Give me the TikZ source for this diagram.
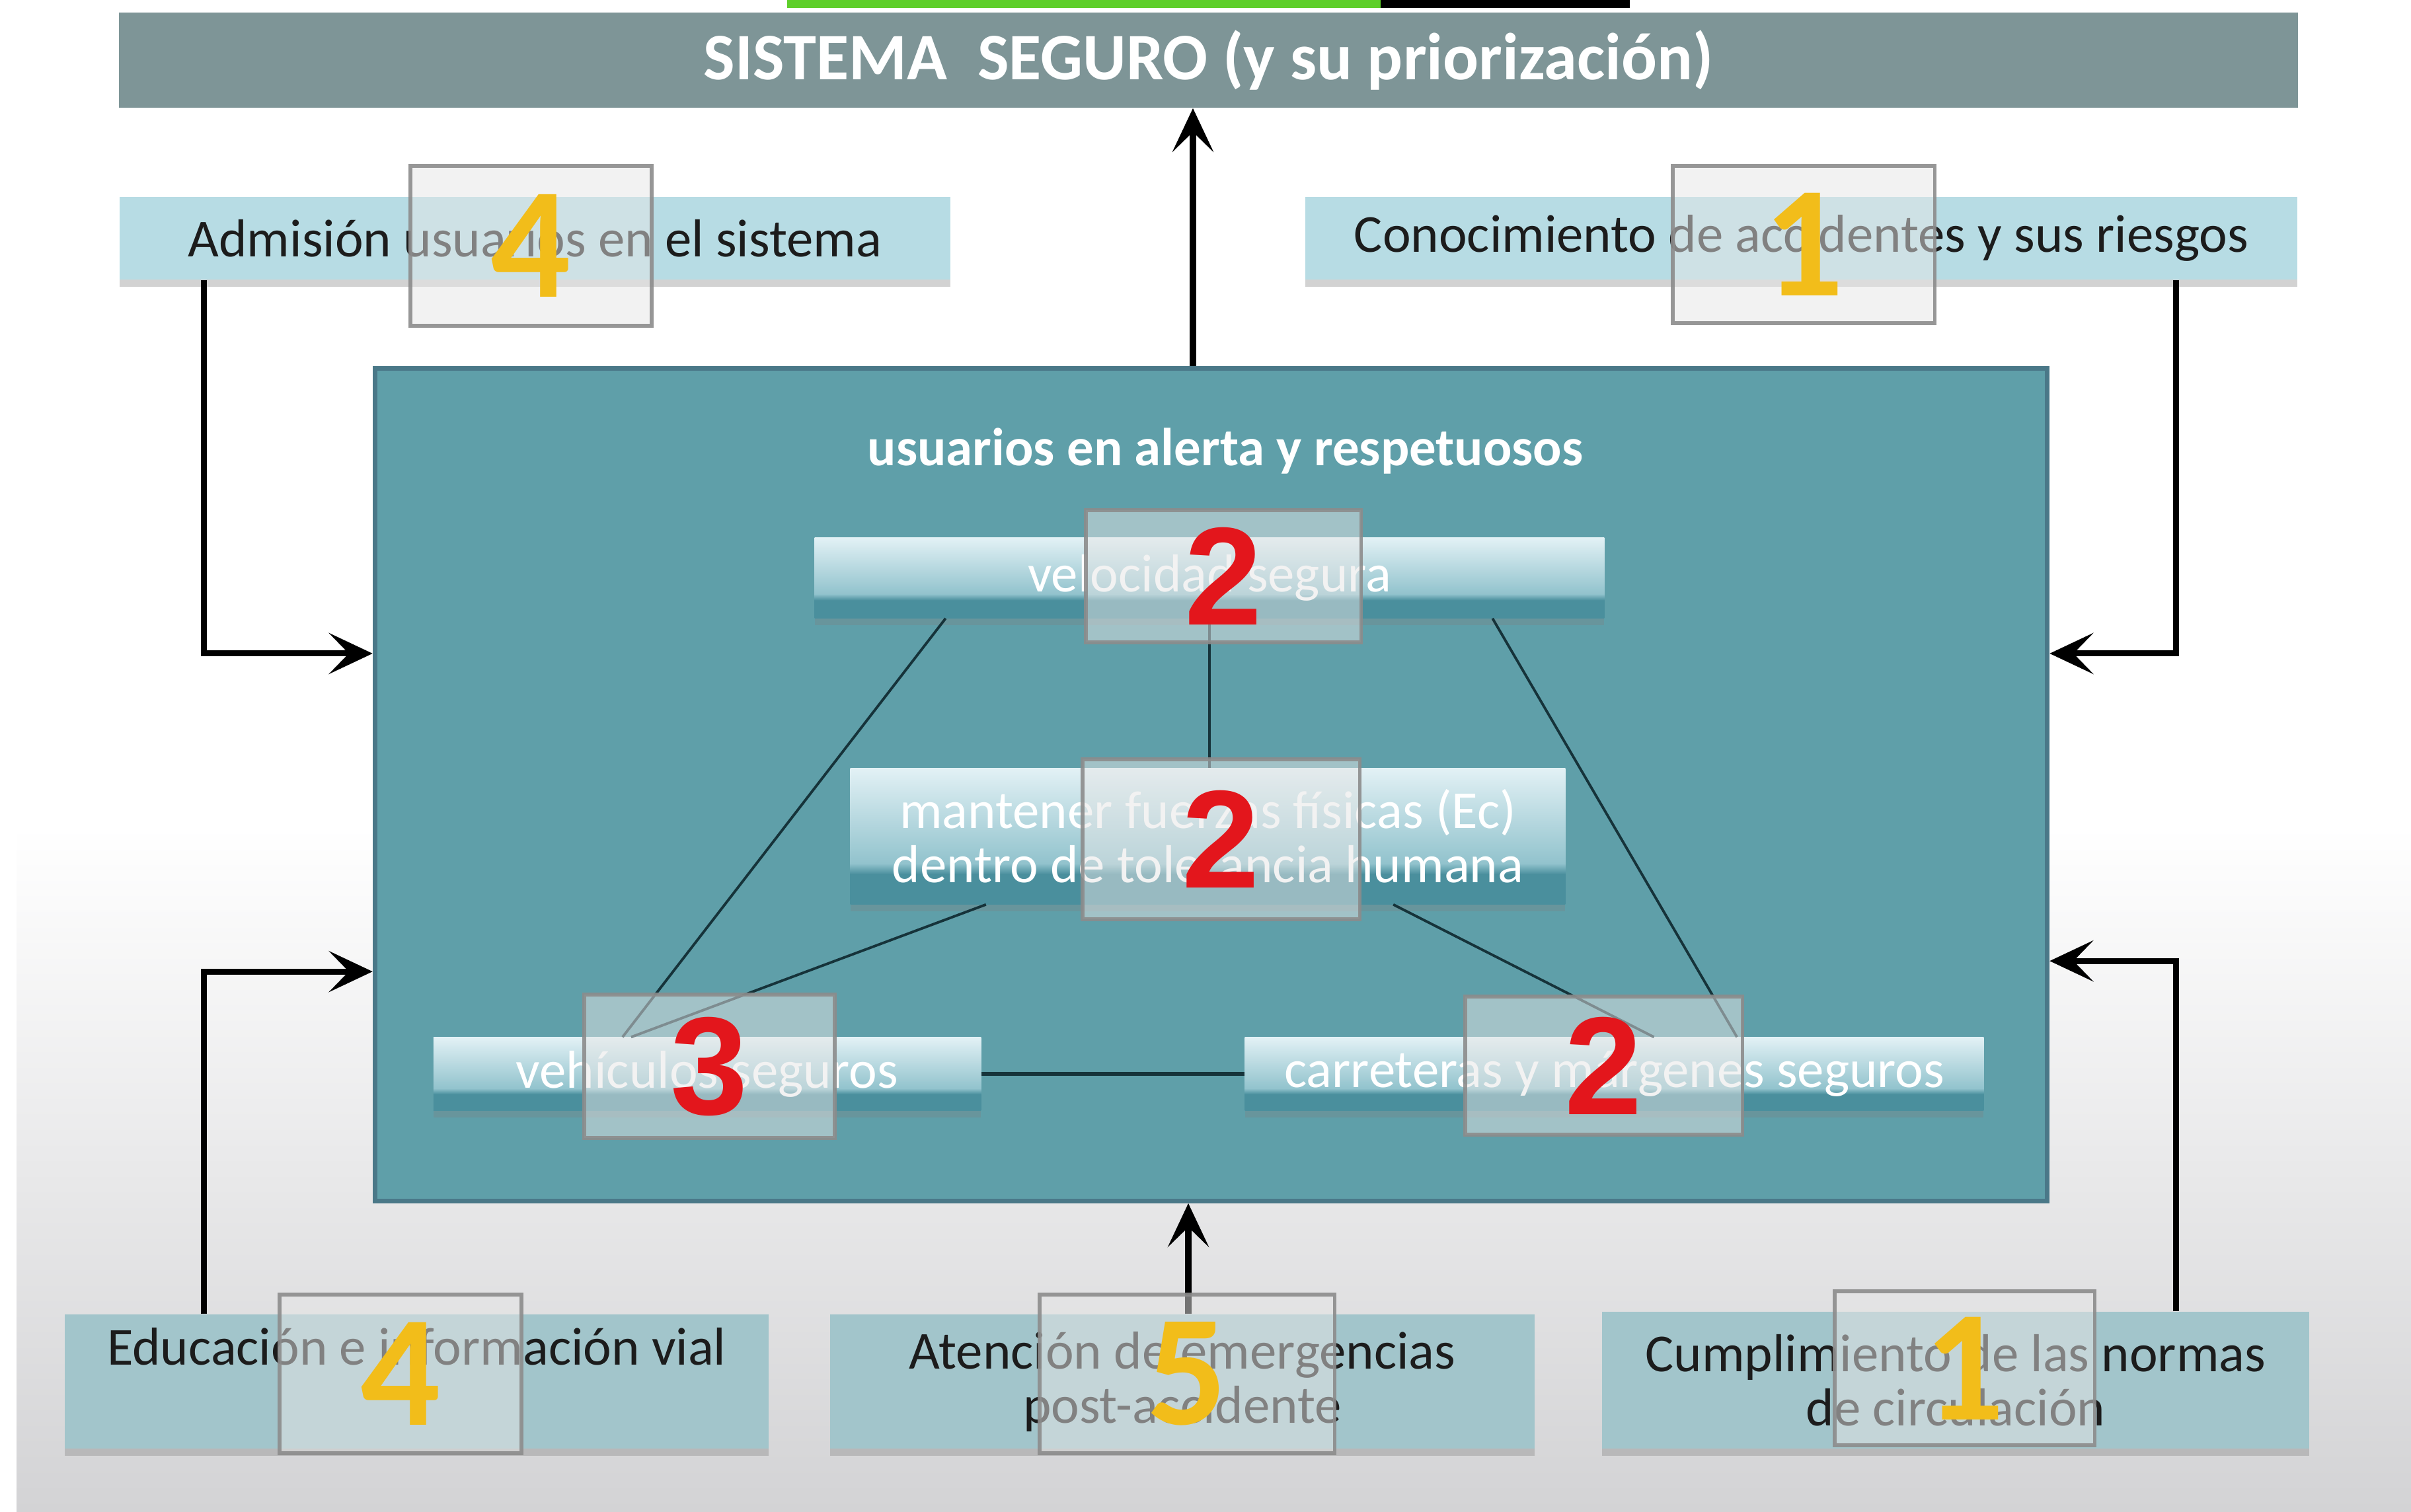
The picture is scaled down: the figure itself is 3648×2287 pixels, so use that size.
\documentclass[tikz,border=0pt]{standalone}
\usepackage{fontspec}
\setmainfont{Carlito}
\newfontfamily\redfont{Liberation Sans}
\usetikzlibrary{arrows.meta,shadows,calc}
\definecolor{titlebg}{HTML}{7E9597}
\definecolor{panelbg}{HTML}{5F9FA9}
\definecolor{panelbd}{HTML}{4A7888}
\definecolor{outerA}{HTML}{B7DCE4}
\definecolor{outerB}{HTML}{A2C5CB}
\definecolor{gtop}{HTML}{E2F1F5}
\definecolor{gmid}{HTML}{92C3CD}
\definecolor{gband}{HTML}{4A8F9D}
\definecolor{numyel}{HTML}{F2BD1A}
\definecolor{numred}{HTML}{E3161C}
\definecolor{linedk}{HTML}{16333A}
\definecolor{bggray}{HTML}{D3D3D5}
\definecolor{txtdk}{HTML}{1C1C1C}
\definecolor{badgefill}{HTML}{E6E6E6}
\definecolor{badgeline}{HTML}{8C8C8C}
\definecolor{progreen}{HTML}{5ECF2A}
\pgfdeclareverticalshading{glossy}{100bp}{color(0bp)=(gband); color(25bp)=(gband); color(36bp)=(gband); color(40bp)=(gmid); color(75bp)=(gtop); color(100bp)=(gtop)}
\newcommand\txtsz{\fontsize{23}{23.3}\selectfont}
\begin{document}
\begin{tikzpicture}[x=0.01cm,y=-0.01cm,
  titlebox/.style={rectangle, inner sep=0pt, fill=titlebg, text=white, font=\fontsize{28.6}{30}\selectfont\bfseries},
  panelbox/.style={rectangle, inner sep=0pt, fill=panelbg, draw=panelbd, line width=2pt},
  paneltitle/.style={inner sep=0pt, text=white, font=\txtsz\bfseries},
  outerbox/.style={rectangle, inner sep=0pt, fill=#1, text=txtdk, font=\txtsz, align=center,
    drop shadow={shadow xshift=0pt, shadow yshift=-3pt, opacity=0.35}},
  innerbox/.style={rectangle, inner sep=0pt, shading=glossy, text=white, font=\txtsz, align=center,
    drop shadow={shadow xshift=0pt, shadow yshift=-3pt, opacity=0.3}},
  badge/.style={rectangle, inner sep=0pt, fill=badgefill, fill opacity=0.5, text opacity=1,
    draw=badgeline, draw opacity=0.9, line width=1.5pt},
  ynum/.style={badge, text=numyel, font=\fontsize{68}{68}\selectfont\bfseries},
  rnum/.style={badge, text=numred, font=\redfont\fontsize{60}{60}\selectfont\bfseries},
  thinln/.style={draw=linedk, line width=1.1pt},
  arr/.style={draw=black, line width=2.6pt, -{Stealth[length=0.66cm,width=0.62cm,inset=0.3cm]}}
]
\useasboundingbox (0,0) rectangle (3648,2287);
% background
\fill[white] (0,0) rectangle (3648,2287);
\shade[top color=white, bottom color=bggray] (25,1250) rectangle (3648,2287);
\fill[progreen] (1191,0) rectangle (2089,12);
\fill[black] (2089,0) rectangle (2466,12);

% title
\node[titlebox, minimum width=32.95cm, minimum height=1.44cm] (title) at (1828.5,91) {SISTEMA\ \ SEGURO (y su priorización)};

% panel
\node[panelbox, minimum width=25.29cm, minimum height=12.59cm] (pan) at (1832.5,1187.5) {};
\node[paneltitle] (ptitle) at (1854,682) {usuarios en alerta y respetuosos};

% outer boxes
\node[outerbox=outerA, minimum width=12.57cm, minimum height=1.25cm] (adm) at (809.5,360.5) {Admisión usuarios en el sistema};
\node[outerbox=outerA, minimum width=15.01cm, minimum height=1.25cm] (con) at (2725.5,360.5) {Conocimiento de accidentes y sus riesgos};
\node[outerbox=outerB, minimum width=10.65cm, minimum height=2.03cm] (edu) at (630.5,2090.5) {Educación e información vial\\ \strut};
\node[outerbox=outerB, minimum width=10.66cm, minimum height=2.03cm] (ate) at (1789,2090.5) {Atención de emergencias\\post-accidente};
\node[outerbox=outerB, minimum width=10.70cm, minimum height=2.07cm] (cum) at (2959,2088.5) {Cumplimiento de las normas\\de circulación};

% inner boxes
\node[innerbox, minimum width=11.94cm, minimum height=1.21cm] (vel) at (1830,874.5) {velocidad segura};
\node[innerbox, minimum width=10.81cm, minimum height=2.05cm] (man) at (1827.5,1265.5) {mantener fuerzas físicas (Ec)\\dentro de tolerancia humana};
\node[innerbox, minimum width=8.28cm, minimum height=1.10cm] (veh) at (1070,1625) {vehículos seguros};
\node[innerbox, minimum width=11.17cm, minimum height=1.10cm] (car) at (2442.5,1625) {carreteras y márgenes seguros};

% connecting lines in panel
\draw[thinln] ([xshift=-3.99cm]vel.south) -- ([xshift=-1.28cm]veh.north);
\draw[thinln] ([xshift=-3.355cm]man.south) -- ([xshift=-1.15cm]veh.north);
\draw[thinln] ([xshift=4.28cm]vel.south) -- ([xshift=1.855cm]car.north);
\draw[thinln] ([xshift=2.805cm]man.south) -- ([xshift=0.6cm]car.north);
\draw[thinln] (vel.south) -- (vel.south |- man.north);
\draw[thinln, line width=1.6pt] (veh.east) -- (car.west);

% arrows
\draw[arr] ([xshift=-0.275cm]pan.north) -- ([xshift=-0.275cm]pan.north |- title.south);
\draw[arr] ([xshift=-5.005cm]adm.south) |- ([yshift=1.985cm]pan.west);
\draw[arr] ([xshift=5.665cm]con.south) |- ([yshift=1.985cm]pan.east);
\draw[arr] ([xshift=-3.215cm]edu.north) |- ([yshift=-2.825cm]pan.west);
\draw[arr] ([xshift=3.33cm]cum.north) |- ([yshift=-2.665cm]pan.east);
\draw[arr] ([xshift=0.09cm]ate.north) -- ([xshift=0.09cm]ate.north |- pan.south);

% priority badges
\node[ynum, minimum width=3.65cm, minimum height=2.42cm] (b4a) at (803.5,372) {4};
\node[ynum, minimum width=3.96cm, minimum height=2.38cm] (b1a) at (2729,370) {1};
\node[rnum, minimum width=4.16cm, minimum height=2.00cm] (b2v) at (1851,872) {2};
\node[rnum, minimum width=4.19cm, minimum height=2.42cm] (b2m) at (1847.5,1270) {2};
\node[rnum, minimum width=3.79cm, minimum height=2.17cm] (b3) at (1073.5,1613.5) {3};
\node[rnum, minimum width=4.19cm, minimum height=2.09cm] (b2c) at (2426.5,1612.5) {2};
\node[ynum, minimum width=3.66cm, minimum height=2.40cm] (b4e) at (606,2079) {4};
\node[ynum, minimum width=4.46cm, minimum height=2.40cm] (b5) at (1796,2079) {5};
\node[ynum, minimum width=3.93cm, minimum height=2.33cm] (b1c) at (2972.5,2070.5) {1};
\end{tikzpicture}
\end{document}
